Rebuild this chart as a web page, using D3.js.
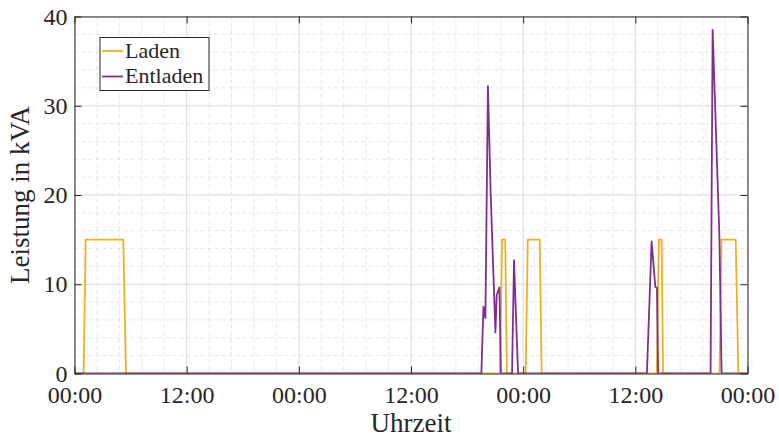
<!DOCTYPE html>
<html>
<head>
<meta charset="utf-8">
<script src="https://cdn.jsdelivr.net/npm/d3@7"></script>
<style>
  html, body { margin: 0; padding: 0; background: #fff; }
  svg { display: block; }
  text { font-family: "Liberation Serif", "Times New Roman", serif; fill: #262626; }
</style>
</head>
<body>
<svg id="chart" width="779" height="437"></svg>
<script>
// Ladeleistung (Stunden seit Start, kVA)
const ladenZeit = [0, 0.98, 1.20, 5.22, 5.51, 45.53, 45.74, 46.08, 46.26, 48.27, 48.49, 49.77, 49.98,
  62.29, 62.53, 62.81, 62.97, 69.01, 69.22, 70.74, 71.02, 72];
const ladenWert = [0, 0, 15, 15, 0, 0, 15, 15, 0, 0, 15, 15, 0,
  0, 15, 15, 0, 0, 15, 15, 0, 0];

// Entladeleistung (Stunden seit Start, kVA)
const entladenZeit = [0, 43.53, 43.75, 43.96, 44.23, 44.53, 45.03, 45.17, 45.46, 45.62, 46.81, 47.02, 47.45,
  61.24, 61.74, 62.14, 62.31, 62.44, 68.05, 68.27, 68.99, 69.23, 72];
const entladenWert = [0, 0, 7.5, 6.2, 32.2, 20.0, 4.6, 8.8, 9.65, 0, 0, 12.7, 0,
  0, 14.8, 9.7, 9.6, 0, 0, 38.5, 15.5, 0, 0];

const yTicks = [0, 10, 20, 30, 40];
const serien = ["Laden", "Entladen"];
const farben = ["#EDB120", "#7E2F8E"];

const start = new Date(2024, 0, 1, 0, 0);
const ende = new Date(2024, 0, 4, 0, 0);
const toDate = h => new Date(start.getTime() + h * 3600e3);

const L = 74.5, R = 747.5, T = 16.5, B = 373.5;
const svg = d3.select("#chart");

const x = d3.scaleTime().domain([start, ende]).range([L, R]);
const y = d3.scaleLinear().domain([0, 40]).range([B, T]);

const majorX = d3.timeHour.every(12).range(start, new Date(ende.getTime() + 1));
const minorX = d3.range(0, 72.001, 2.4).map(toDate);
const minorY = d3.range(0, 40.001, 2);

// Hilfsgitter (gestrichelt)
const grid = svg.append("g");
grid.selectAll("line.mx").data(minorX).join("line")
  .attr("x1", d => x(d)).attr("x2", d => x(d)).attr("y1", T).attr("y2", B)
  .attr("stroke", "#e6e6e6").attr("stroke-width", 1).attr("stroke-dasharray", "4,3");
grid.selectAll("line.my").data(minorY).join("line")
  .attr("y1", d => y(d)).attr("y2", d => y(d)).attr("x1", L).attr("x2", R)
  .attr("stroke", "#e6e6e6").attr("stroke-width", 1).attr("stroke-dasharray", "4,3");

// Hauptgitter
grid.selectAll("line.Mx").data(majorX).join("line")
  .attr("x1", d => x(d)).attr("x2", d => x(d)).attr("y1", T).attr("y2", B)
  .attr("stroke", "#dedede").attr("stroke-width", 1);
grid.selectAll("line.My").data(yTicks).join("line")
  .attr("y1", d => y(d)).attr("y2", d => y(d)).attr("x1", L).attr("x2", R)
  .attr("stroke", "#dedede").attr("stroke-width", 1);

// Datenlinien
svg.append("clipPath").attr("id", "plotclip").append("rect")
  .attr("x", L).attr("y", T - 2).attr("width", R - L).attr("height", B - T + 2);

const line = d3.line().x(d => x(toDate(d[0]))).y(d => y(d[1]));
const daten = [
  d3.zip(ladenZeit, ladenWert),
  d3.zip(entladenZeit, entladenWert)
];
svg.append("g").attr("clip-path", "url(#plotclip)")
  .selectAll("path").data(daten).join("path")
  .attr("d", line)
  .attr("fill", "none")
  .attr("stroke", (d, i) => farben[i])
  .attr("stroke-width", 1.8)
  .attr("stroke-linejoin", "round");

// Achsen (Box mit Ticks nach innen)
const axCol = "#262626";
const fmt = d3.timeFormat("%H:%M");
const xAxisB = d3.axisBottom(x).tickValues(majorX).tickFormat(fmt).tickSizeInner(-7).tickSizeOuter(0).tickPadding(12);
const xAxisT = d3.axisTop(x).tickValues(majorX).tickFormat("").tickSizeInner(-7).tickSizeOuter(0);
const yAxisL = d3.axisLeft(y).tickValues(yTicks).tickFormat(d3.format("d")).tickSizeInner(-7).tickSizeOuter(0).tickPadding(7);
const yAxisR = d3.axisRight(y).tickValues(yTicks).tickFormat("").tickSizeInner(-7).tickSizeOuter(0);

function style(g) {
  g.select(".domain").attr("stroke", axCol).attr("stroke-width", 1);
  g.selectAll(".tick line").attr("stroke", axCol).attr("stroke-width", 1);
  g.selectAll(".tick text").attr("fill", axCol).attr("font-size", 24)
    .attr("font-family", "Liberation Serif, serif");
}
svg.append("g").attr("transform", `translate(0,${B})`).call(xAxisB).call(style);
svg.append("g").attr("transform", `translate(0,${T})`).call(xAxisT).call(style);
svg.append("g").attr("transform", `translate(${L},0)`).call(yAxisL).call(style)
  .selectAll(".tick text").attr("dy", "0.32em");
svg.append("g").attr("transform", `translate(${R},0)`).call(yAxisR).call(style);

// Achsenbeschriftungen
svg.append("text").attr("x", (L + R) / 2).attr("y", 432)
  .attr("text-anchor", "middle").attr("font-size", 27).text("Uhrzeit");
svg.append("text").attr("transform", `translate(29,${(T + B) / 2}) rotate(-90)`)
  .attr("text-anchor", "middle").attr("font-size", 27).text("Leistung in kVA");

// Legende
const lg = svg.append("g");
lg.append("rect").attr("x", 100).attr("y", 37.5).attr("width", 109).attr("height", 53)
  .attr("fill", "#fff").attr("stroke", axCol).attr("stroke-width", 1);
serien.forEach((s, i) => {
  const yy = 51 + i * 25.5;
  lg.append("line").attr("x1", 102).attr("x2", 123).attr("y1", yy).attr("y2", yy)
    .attr("stroke", farben[i]).attr("stroke-width", 1.8);
  lg.append("text").attr("x", 125).attr("y", yy + 6.5).attr("font-size", 22).text(s);
});
</script>
</body>
</html>
